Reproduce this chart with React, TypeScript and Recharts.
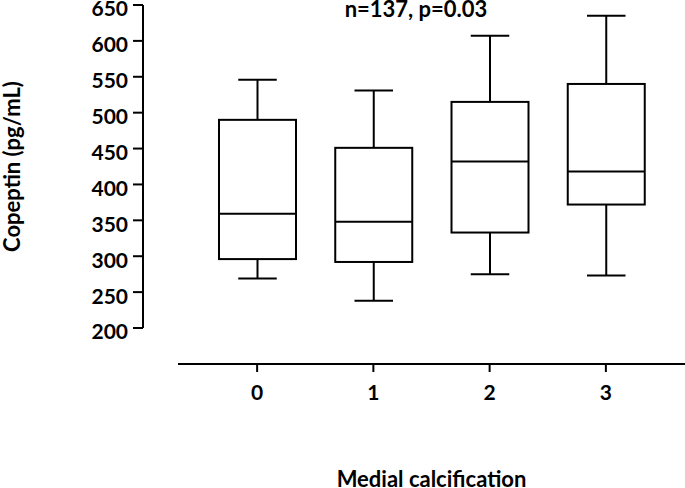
import { BarChart, Bar, XAxis, YAxis, Label } from "recharts"

const groups = ["0", "1", "2", "3"]
const whiskerLow = [269, 238, 275, 273]
const quartile1 = [296, 292, 333, 372]
const medians = [359, 348, 432, 418]
const quartile3 = [490, 451, 515, 540]
const whiskerHigh = [546, 531, 607, 635]
const yTicks = [200, 250, 300, 350, 400, 450, 500, 550, 600, 650]

const data = groups.map((g, i) => ({
  group: g,
  range: [whiskerLow[i], whiskerHigh[i]],
  low: whiskerLow[i],
  q1: quartile1[i],
  median: medians[i],
  q3: quartile3[i],
  high: whiskerHigh[i],
}))

const font = "Lato, 'DejaVu Sans', sans-serif"

function BoxShape(props: any) {
  const { x, y, width, height, payload } = props
  const top = Math.min(y, y + height)
  const bottom = Math.max(y, y + height)
  const { low, q1, median, q3, high } = payload
  const px = (v: number) => bottom - ((v - low) / (high - low)) * (bottom - top)
  const cx = x + width / 2
  const cap = width / 4
  const s = { stroke: "#000", strokeWidth: 2, fill: "none" }
  return (
    <g>
      <line x1={cx} x2={cx} y1={px(high)} y2={px(q3)} {...s} />
      <line x1={cx - cap} x2={cx + cap} y1={px(high)} y2={px(high)} {...s} />
      <rect x={x} y={px(q3)} width={width} height={px(q1) - px(q3)} {...s} fill="#fff" />
      <line x1={x} x2={x + width} y1={px(median)} y2={px(median)} {...s} />
      <line x1={cx} x2={cx} y1={px(q1)} y2={px(low)} {...s} />
      <line x1={cx - cap} x2={cx + cap} y1={px(low)} y2={px(low)} {...s} />
    </g>
  )
}

function YTick(props: any) {
  const { x, y, payload } = props
  return (
    <text x={x} y={y + 4} dy="0.355em" textAnchor="end" fontSize={21} fontWeight={700} fill="#000">
      {payload.value}
    </text>
  )
}

export default function App() {
  return (
    <div style={{ position: "absolute", left: 0, top: 0, width: 685, height: 488, background: "#fff" }}>
      <BarChart
        width={685}
        height={488}
        data={data}
        margin={{ top: 5, right: 0, left: 0, bottom: 0 }}
        barSize={77}
        style={{ fontFamily: font, fontWeight: 700 }}
      >
        <XAxis xAxisId="gap" dataKey="group" height={36} axisLine={false} tickLine={false} tick={false} />
        <XAxis
          xAxisId="main"
          dataKey="group"
          height={124}
          padding={{ left: 21, right: 21 }}
          axisLine={{ stroke: "#000", strokeWidth: 2 }}
          tickLine={{ stroke: "#000", strokeWidth: 2 }}
          tickSize={8}
          tickMargin={13}
          tick={{ fill: "#000", fontSize: 21, fontWeight: 700 }}
        >
          <Label value="Medial calcification" position="insideBottom" offset={1} style={{ fill: "#000", fontSize: 22, fontWeight: 700 }} />
        </XAxis>
        <YAxis yAxisId="gap" width={35} domain={[200, 650]} axisLine={false} tickLine={false} tick={false} />
        <YAxis
          yAxisId="main"
          width={143}
          domain={[200, 650]}
          ticks={yTicks}
          interval={0}
          axisLine={{ stroke: "#000", strokeWidth: 2 }}
          tickLine={{ stroke: "#000", strokeWidth: 2 }}
          tickSize={10}
          tickMargin={5}
          tick={YTick}
        >
          <Label value="Copeptin (pg/mL)" angle={-90} position="insideLeft" offset={12} style={{ fill: "#000", fontSize: 22, fontWeight: 700, textAnchor: "middle" }} />
        </YAxis>
        <Bar xAxisId="main" yAxisId="main" dataKey="range" shape={BoxShape} isAnimationActive={false} />
        <text x={416} y={17} textAnchor="middle" fontSize={22} fontWeight={700} fill="#000">n=137, p=0.03</text>
      </BarChart>
    </div>
  )
}
